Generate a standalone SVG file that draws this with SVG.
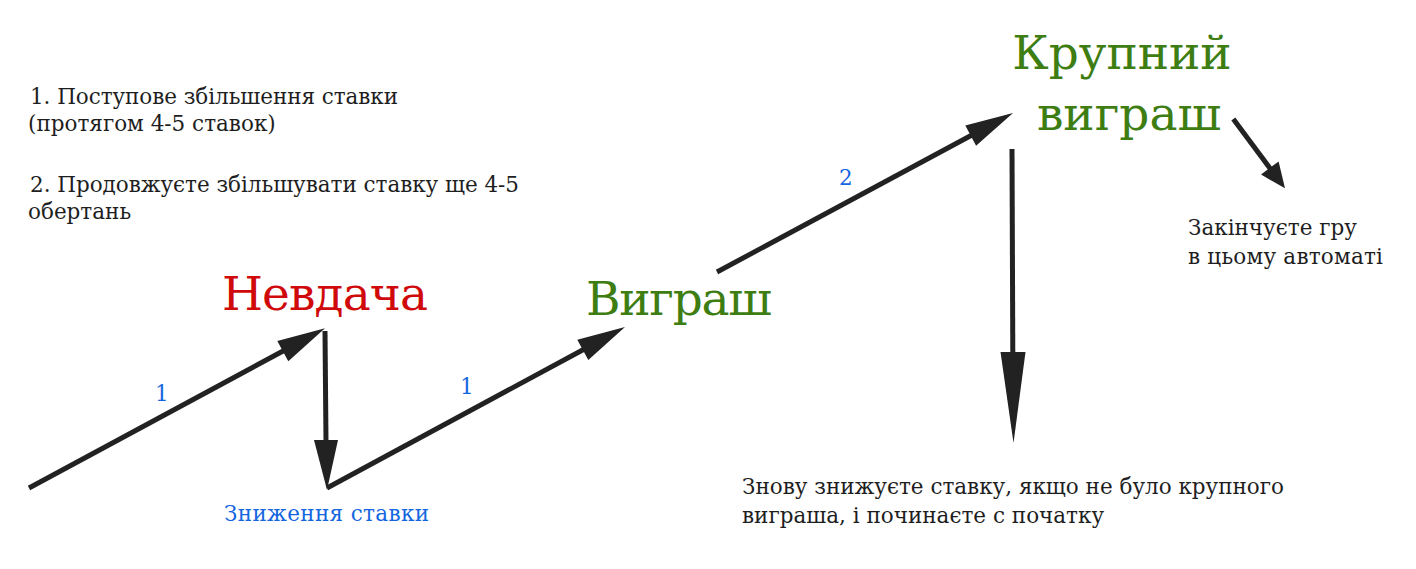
<svg xmlns="http://www.w3.org/2000/svg" width="1416" height="569" viewBox="0 0 1416 569">
<style>
.t{font-family:"DejaVu Serif","Liberation Serif",serif;fill:#1e1e1e;font-size:21.5px}
.big{font-family:"DejaVu Serif","Liberation Serif",serif;font-size:47px}
.red{fill:#d00a0a}
.green{fill:#3d7d12}
.blue{font-family:"DejaVu Serif","Liberation Serif",serif;fill:#1466e0;font-size:21.5px}
.ln{stroke:#222;stroke-width:5;fill:none}
.hd{fill:#222;stroke:none}
</style>
<rect width="1416" height="569" fill="#fff"/>
<g id="notes">
<text class="t" x="30" y="104" textLength="368">1. Поступове збільшення ставки</text>
<text class="t" x="28" y="131">(протягом 4-5 ставок)</text>
<text class="t" x="30" y="192" textLength="489">2. Продовжуєте збільшувати ставку ще 4-5</text>
<text class="t" x="28" y="219">обертань</text>
</g>
<g id="node-nevdacha"><text class="big red" x="222" y="310" textLength="206">Невдача</text></g>
<g id="node-vygrash"><text class="big green" x="586" y="315" textLength="186">Виграш</text></g>
<g id="node-krupnyi"><text class="big green" x="1122" y="69" text-anchor="middle">Крупний</text><text class="big green" x="1129" y="130" text-anchor="middle">виграш</text></g>
<g id="node-znyzhennia"><text class="blue" x="224" y="521" textLength="205">Зниження ставки</text></g>
<g id="node-zakinchuiete"><text class="t" x="1188" y="235">Закінчуєте гру</text><text class="t" x="1188" y="264" textLength="195">в цьому автоматі</text></g>
<g id="node-znovu"><text class="t" x="742" y="494" textLength="542">Знову знижуєте ставку, якщо не було крупного</text><text class="t" x="742" y="523">виграша, і починаєте с початку</text></g>
<g id="connectors">
<line class="ln" x1="29" y1="488" x2="284" y2="350.5"/>
<polygon class="hd" points="325,328.3 288.3,361.2 277.3,341"/>
<text class="blue" x="155" y="401">1</text>
<line class="ln" x1="325" y1="331" x2="326" y2="442" stroke-width="4.5"/>
<polygon class="hd" points="314,440 338,440 327,490"/>
<line class="ln" x1="327" y1="488" x2="584" y2="349.2"/>
<polygon class="hd" points="625,327 588.3,359.9 577.3,339.7"/>
<text class="blue" x="460" y="394">1</text>
<line class="ln" x1="717" y1="272" x2="972" y2="135"/>
<polygon class="hd" points="1013,113 976.1,145.8 965.3,125.6"/>
<text class="blue" x="839" y="185">2</text>
<line class="ln" x1="1012" y1="149" x2="1012.8" y2="354" stroke-width="4.5"/>
<polygon class="hd" points="1000.5,352 1025.5,352 1013.5,443"/>
<line class="ln" x1="1233.3" y1="119" x2="1270.5" y2="169" stroke-width="4.5"/>
<polygon class="hd" points="1285,188.3 1261,174.6 1278.6,161.4"/>
</g>
</svg>
